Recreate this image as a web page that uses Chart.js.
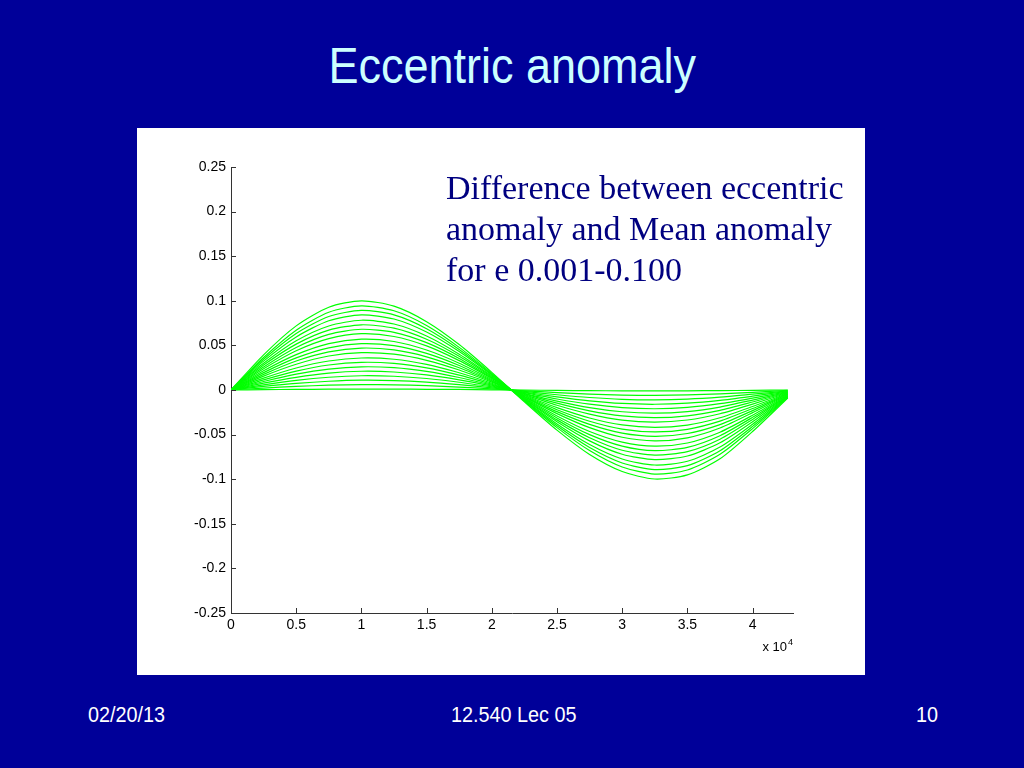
<!DOCTYPE html>
<html>

<head>
    <title>Eccentric anomaly</title>
    <script src="https://cdn.jsdelivr.net/npm/chart.js"></script>
    <style>
        body {
            margin: 0;
            width: 1024px;
            height: 768px;
            background: #000099;
            position: relative;
            overflow: hidden;
            font-family: "Liberation Sans", Arial, sans-serif;
        }

        .title {
            position: absolute;
            left: 0;
            top: 41px;
            width: 1024px;
            text-align: center;
            color: #ccffff;
            font-size: 50px;
            line-height: 50px;
        }

        .title span {
            display: inline-block;
            transform: scaleX(0.9);
        }

        .panel {
            position: absolute;
            left: 137px;
            top: 128px;
            width: 728px;
            height: 547px;
            background: #ffffff;
        }

        .note {
            position: absolute;
            left: 446px;
            top: 168px;
            font-family: "Liberation Serif", "Times New Roman", serif;
            font-size: 33px;
            line-height: 41px;
            color: #000080;
            white-space: nowrap;
            transform-origin: left top;
            transform: scaleX(1.03);
        }

        .foot {
            position: absolute;
            top: 704px;
            color: #ffffff;
            font-size: 22px;
            line-height: 22px;
            white-space: nowrap;
            transform-origin: left center;
            transform: scaleX(0.9);
        }
    </style>
</head>

<body>
    <div class="title"><span>Eccentric anomaly</span></div>

    <!-- white figure panel with the chart -->
    <div class="panel">
        <canvas id="anomalyChart" width="728" height="547"></canvas>
    </div>

    <div class="note">Difference between eccentric<br>anomaly and Mean anomaly<br>for e 0.001-0.100</div>

    <div class="foot" style="left:88px;">02/20/13</div>
    <div class="foot" style="left:451px;">12.540 Lec 05</div>
    <div class="foot" style="left:916px;">10</div>

    <script>
        // time axis in units of 10^4 s
        var times = [0, 0.25, 0.5, 0.75, 1, 1.25, 1.5, 1.75, 2, 2.25, 2.5, 2.75, 3, 3.25, 3.5, 3.75, 4, 4.27];

        var xTickValues = [0, 0.5, 1, 1.5, 2, 2.5, 3, 3.5, 4];
        var xTickLabels = ['0', '0.5', '1', '1.5', '2', '2.5', '3', '3.5', '4'];
        var yTickValues = [-0.25, -0.2, -0.15, -0.1, -0.05, 0, 0.05, 0.1, 0.15, 0.2, 0.25];
        var yTickLabels = ['-0.25', '-0.2', '-0.15', '-0.1', '-0.05', '0', '0.05', '0.1', '0.15', '0.2', '0.25'];

        var eccentricities = ['0.001', '0.006', '0.011', '0.016', '0.021', '0.026', '0.031', '0.036', '0.042', '0.047',
            '0.052', '0.057', '0.063', '0.068', '0.073', '0.078', '0.084', '0.089', '0.094', '0.100'];

        // E - M (rad), one array per eccentricity
        var de001 = [0, .0004, .0007, .0009, .0010, .0010, .0008, .0006, .0002, -.0001, -.0005, -.0008, -.0009, -.0010, -.0009, -.0007, -.0004, 0];
        var de006 = [0, .0022, .0040, .0054, .0060, .0058, .0049, .0033, .0013, -.0009, -.0029, -.0046, -.0057, -.0060, -.0055, -.0043, -.0026, -.0005];
        var de011 = [0, .0040, .0074, .0098, .0110, .0106, .0089, .0060, .0024, -.0016, -.0053, -.0084, -.0104, -.0110, -.0102, -.0080, -.0047, -.0010];
        var de016 = [0, .0058, .0108, .0143, .0160, .0154, .0129, .0087, .0034, -.0023, -.0077, -.0122, -.0151, -.0160, -.0148, -.0116, -.0069, -.0014];
        var de021 = [0, .0077, .0142, .0189, .0210, .0202, .0169, .0114, .0045, -.0030, -.0101, -.0159, -.0197, -.0210, -.0195, -.0153, -.0091, -.0019];
        var de026 = [0, .0095, .0177, .0234, .0260, .0250, .0208, .0140, .0055, -.0037, -.0124, -.0197, -.0244, -.0260, -.0242, -.0191, -.0113, -.0023];
        var de031 = [0, .0114, .0212, .0280, .0310, .0298, .0248, .0167, .0065, -.0044, -.0148, -.0234, -.0291, -.0310, -.0289, -.0228, -.0135, -.0028];
        var de036 = [0, .0133, .0247, .0325, .0359, .0345, .0287, .0193, .0076, -.0051, -.0171, -.0270, -.0337, -.0360, -.0336, -.0266, -.0158, -.0032];
        var de042 = [0, .0156, .0289, .0381, .0419, .0402, .0333, .0224, .0088, -.0059, -.0198, -.0314, -.0392, -.0420, -.0393, -.0311, -.0185, -.0038];
        var de047 = [0, .0175, .0325, .0427, .0470, .0449, .0372, .0249, .0098, -.0065, -.0221, -.0350, -.0438, -.0470, -.0441, -.0349, -.0208, -.0042];
        var de052 = [0, .0195, .0360, .0473, .0520, .0497, .0410, .0275, .0107, -.0072, -.0243, -.0386, -.0484, -.0520, -.0488, -.0388, -.0231, -.0047];
        var de057 = [0, .0215, .0396, .0520, .0570, .0544, .0448, .0300, .0117, -.0078, -.0265, -.0422, -.0530, -.0570, -.0536, -.0426, -.0254, -.0051];
        var de063 = [0, .0238, .0440, .0576, .0631, .0600, .0494, .0329, .0129, -.0086, -.0291, -.0465, -.0584, -.0630, -.0594, -.0473, -.0283, -.0057];
        var de068 = [0, .0258, .0477, .0624, .0681, .0647, .0531, .0354, .0138, -.0092, -.0313, -.0500, -.0629, -.0680, -.0643, -.0512, -.0306, -.0061];
        var de073 = [0, .0279, .0514, .0671, .0731, .0693, .0569, .0378, .0147, -.0099, -.0335, -.0535, -.0675, -.0730, -.0691, -.0552, -.0330, -.0066];
        var de078 = [0, .0299, .0551, .0718, .0782, .0740, .0606, .0402, .0157, -.0105, -.0356, -.0570, -.0720, -.0781, -.0740, -.0592, -.0355, -.0070];
        var de084 = [0, .0324, .0595, .0776, .0843, .0796, .0650, .0431, .0168, -.0112, -.0381, -.0611, -.0773, -.0841, -.0799, -.0640, -.0384, -.0076];
        var de089 = [0, .0344, .0633, .0824, .0893, .0842, .0687, .0455, .0177, -.0118, -.0402, -.0645, -.0818, -.0892, -.0848, -.0680, -.0408, -.0080];
        var de094 = [0, .0365, .0671, .0872, .0944, .0888, .0723, .0478, .0186, -.0124, -.0422, -.0679, -.0863, -.0943, -.0897, -.0721, -.0433, -.0085];
        var de100 = [0, .0394, .0719, .0928, .1000, .0940, .0766, .0509, .0198, -.0132, -.0450, -.0723, -.0914, -.0998, -.0952, -.0772, -.0466, -.0090];

        var curves = [de001, de006, de011, de016, de021, de026, de031, de036, de042, de047,
            de052, de057, de063, de068, de073, de078, de084, de089, de094, de100];

        var datasets = [];
        for (var i = 0; i < curves.length; i++) {
            var pts = [];
            for (var j = 0; j < times.length; j++) {
                pts.push({ x: times[j], y: curves[i][j] });
            }
            datasets.push({
                label: 'e ' + eccentricities[i],
                data: pts,
                borderColor: '#00ff00',
                borderWidth: 1.2,
                pointRadius: 0,
                tension: 0.25,
                fill: false
            });
        }

        // matlab style ticks pointing into the axes, plus the x 10^4 multiplier
        var inwardTicks = {
            id: 'inwardTicks',
            afterDraw: function (chart) {
                var ctx = chart.ctx;
                var area = chart.chartArea;
                var xs = chart.scales.x;
                var ys = chart.scales.y;
                ctx.save();
                ctx.strokeStyle = '#333333';
                ctx.lineWidth = 1;
                ctx.beginPath();
                xTickValues.forEach(function (v) {
                    var px = Math.round(xs.getPixelForValue(v)) + 0.5;
                    ctx.moveTo(px, area.bottom);
                    ctx.lineTo(px, area.bottom - 5);
                });
                yTickValues.forEach(function (v) {
                    var py = Math.round(ys.getPixelForValue(v)) + 0.5;
                    ctx.moveTo(area.left, py);
                    ctx.lineTo(area.left + 5, py);
                });
                ctx.stroke();

                ctx.fillStyle = '#000000';
                ctx.textBaseline = 'alphabetic';
                ctx.textAlign = 'right';
                ctx.font = '13px "Liberation Sans", Arial, sans-serif';
                ctx.fillText('x 10', area.right - 6, area.bottom + 38);
                ctx.textAlign = 'left';
                ctx.font = '9px "Liberation Sans", Arial, sans-serif';
                ctx.fillText('4', area.right - 5, area.bottom + 32);
                ctx.restore();
            }
        };

        var ctx = document.getElementById('anomalyChart').getContext('2d');
        var anomalyChart = new Chart(ctx, {
            type: 'line',
            data: { datasets: datasets },
            plugins: [inwardTicks],
            options: {
                responsive: false,
                animation: false,
                layout: { padding: { left: 0, top: 39, right: 72, bottom: 0 } },
                plugins: {
                    legend: { display: false },
                    tooltip: { enabled: false }
                },
                scales: {
                    x: {
                        type: 'linear',
                        min: 0,
                        max: 4.31,
                        afterBuildTicks: function (scale) {
                            scale.ticks = xTickValues.map(function (v) { return { value: v }; });
                        },
                        afterFit: function (scale) { scale.height = 62; },
                        ticks: {
                            color: '#000000',
                            padding: 4,
                            maxRotation: 0,
                            font: { family: '"Liberation Sans", Arial, sans-serif', size: 14 },
                            callback: function (v, idx) { return xTickLabels[idx]; }
                        },
                        grid: { drawOnChartArea: false, drawTicks: false },
                        border: { display: true, color: '#333333', width: 1 }
                    },
                    y: {
                        min: -0.25,
                        max: 0.25,
                        afterBuildTicks: function (scale) {
                            scale.ticks = yTickValues.map(function (v) { return { value: v }; });
                        },
                        afterFit: function (scale) { scale.width = 94; },
                        ticks: {
                            color: '#000000',
                            padding: 5,
                            font: { family: '"Liberation Sans", Arial, sans-serif', size: 14 },
                            callback: function (v, idx) { return yTickLabels[idx]; }
                        },
                        grid: { drawOnChartArea: false, drawTicks: false },
                        border: { display: true, color: '#333333', width: 1 }
                    }
                }
            }
        });
    </script>
</body>

</html>
